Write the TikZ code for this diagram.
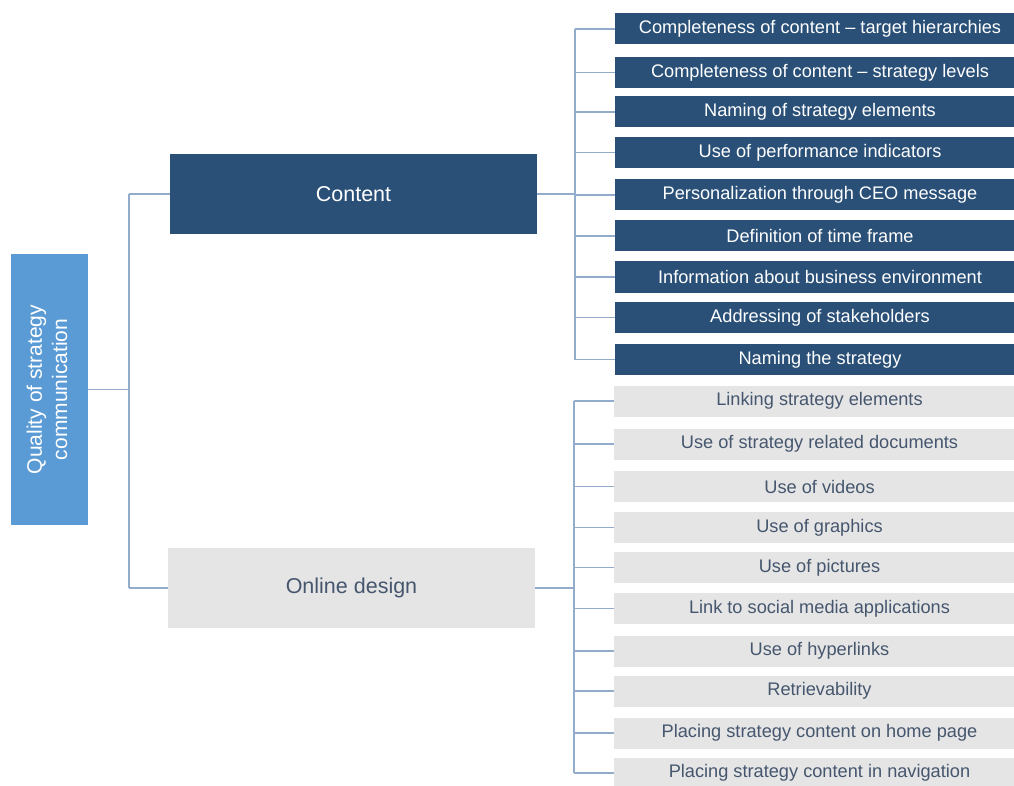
\documentclass[tikz,border=0pt]{standalone}
\usepackage{fontspec}
\setmainfont{Liberation Sans}
\usetikzlibrary{positioning}

\definecolor{rootblue}{HTML}{5B9BD5}
\definecolor{darkblue}{HTML}{2A5078}
\definecolor{lightgray}{HTML}{E5E5E5}
\definecolor{graytext}{HTML}{45566E}
\definecolor{linkblue}{HTML}{93ACCC}

\tikzset{
  root/.style={rectangle, fill=rootblue, text=white, minimum width=77, minimum height=271, inner sep=0pt, font=\fontsize{21}{25}\selectfont},
  topicdark/.style={rectangle, fill=darkblue, text=white, minimum width=367, minimum height=80, inner sep=0pt, font=\fontsize{21.5}{25}\selectfont},
  topiclight/.style={rectangle, fill=lightgray, text=graytext, minimum width=367, minimum height=80, inner sep=0pt, font=\fontsize{21.5}{25}\selectfont},
  itemdark/.style={rectangle, fill=darkblue, text=white, minimum width=399, minimum height=31, inner sep=0pt, font=\fontsize{18.2}{20}\selectfont, execute at begin node=\hspace*{11pt}},
  itemlight/.style={rectangle, fill=lightgray, text=graytext, minimum width=400, minimum height=31, inner sep=0pt, font=\fontsize{18.2}{20}\selectfont, execute at begin node=\hspace*{11pt}},
  link/.style={draw=linkblue, line width=1.4pt}
}

\begin{document}
\begin{tikzpicture}[x=1pt, y=-1pt]
  \useasboundingbox (0,0) rectangle (1014,786);
  % Nodes
  \node (q) [root] at (49.5, 389.5) {\rotatebox{90}{\begin{tabular}{@{}c@{}}Quality of strategy\\communication\end{tabular}}};
  \node (c) [topicdark] at (353.5, 194) {Content};
  \node (o) [topiclight] at (351.5, 588) {Online design};
  % Content items
  \node (c-1) [itemdark] at (814.5, 29) {Completeness of content -- target hierarchies};
  \node (c-2) [itemdark] at (814.5, 72.5) {Completeness of content -- strategy levels};
  \node (c-3) [itemdark] at (814.5, 112) {Naming of strategy elements};
  \node (c-4) [itemdark] at (814.5, 152.5) {Use of performance indicators};
  \node (c-5) [itemdark] at (814.5, 195) {Personalization through CEO message};
  \node (c-6) [itemdark] at (814.5, 236) {Definition of time frame};
  \node (c-7) [itemdark] at (814.5, 277) {Information about business environment};
  \node (c-8) [itemdark] at (814.5, 317.5) {Addressing of stakeholders};
  \node (c-9) [itemdark] at (814.5, 359.5) {Naming the strategy};
  % Online design items
  \node (o-1) [itemlight] at (814, 401) {Linking strategy elements};
  \node (o-2) [itemlight] at (814, 444) {Use of strategy related documents};
  \node (o-3) [itemlight] at (814, 486.5) {Use of videos};
  \node (o-4) [itemlight] at (814, 527.5) {Use of graphics};
  \node (o-5) [itemlight] at (814, 567.5) {Use of pictures};
  \node (o-6) [itemlight] at (814, 608.5) {Link to social media applications};
  \node (o-7) [itemlight] at (814, 651) {Use of hyperlinks};
  \node (o-8) [itemlight] at (814, 691) {Retrievability};
  \node (o-9) [itemlight] at (814, 733) {Placing strategy content on home page};
  \node (o-10) [itemlight] at (814, 773) {Placing strategy content in navigation};
  % Trunks
  \coordinate (t0) at (129, 0);
  \coordinate (t1) at (575, 0);
  \coordinate (t2) at (574, 0);
  % Lines
  \draw[link] (q.east) -- (t0 |- q.east);
  \draw[link] (t0 |- c.west) -- (t0 |- o.west);
  \draw[link] (t0 |- c.west) -- (c.west);
  \draw[link] (t0 |- o.west) -- (o.west);
  \draw[link] (c.east) -- (t1 |- c.east);
  \draw[link] (t1 |- c-1.west) -- (t1 |- c-9.west);
  \draw[link] (t1 |- c-1.west) -- (c-1.west);
  \draw[link] (t1 |- c-2.west) -- (c-2.west);
  \draw[link] (t1 |- c-3.west) -- (c-3.west);
  \draw[link] (t1 |- c-4.west) -- (c-4.west);
  \draw[link] (t1 |- c-5.west) -- (c-5.west);
  \draw[link] (t1 |- c-6.west) -- (c-6.west);
  \draw[link] (t1 |- c-7.west) -- (c-7.west);
  \draw[link] (t1 |- c-8.west) -- (c-8.west);
  \draw[link] (t1 |- c-9.west) -- (c-9.west);
  \draw[link] (o.east) -- (t2 |- o.east);
  \draw[link] (t2 |- o-1.west) -- (t2 |- o-10.west);
  \draw[link] (t2 |- o-1.west) -- (o-1.west);
  \draw[link] (t2 |- o-2.west) -- (o-2.west);
  \draw[link] (t2 |- o-3.west) -- (o-3.west);
  \draw[link] (t2 |- o-4.west) -- (o-4.west);
  \draw[link] (t2 |- o-5.west) -- (o-5.west);
  \draw[link] (t2 |- o-6.west) -- (o-6.west);
  \draw[link] (t2 |- o-7.west) -- (o-7.west);
  \draw[link] (t2 |- o-8.west) -- (o-8.west);
  \draw[link] (t2 |- o-9.west) -- (o-9.west);
  \draw[link] (t2 |- o-10.west) -- (o-10.west);
\end{tikzpicture}
\end{document}
